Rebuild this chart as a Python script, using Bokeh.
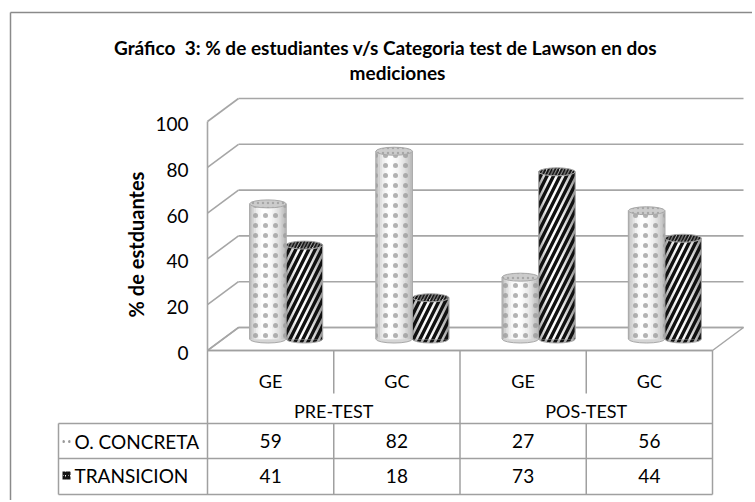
import numpy as np
from bokeh.plotting import figure
from bokeh.models import Range1d
from bokeh.core.properties import value
from bokeh.embed import file_html
from bokeh.resources import INLINE

# ---------------- data ----------------
groups = ["PRE-TEST", "POS-TEST"]
categories = ["GE", "GC", "GE", "GC"]
series_names = ["O. CONCRETA", "TRANSICION"]
concreta = [59, 82, 27, 56]
transicion = [41, 18, 73, 44]
y_ticks = [0, 20, 40, 60, 80, 100]
title_lines = ["Gráfico\u00a0 3: % de estudiantes v/s Categoria test de Lawson en dos", "mediciones"]
y_title = "% de estduantes"

# ---------------- layout (page pixels) ----------------
W, H = 752, 500
ORIGIN = 0
X0, CAT_W = 207.0, 126.25      # page x of category 0 / width of a category column
Y0, UNIT = 350.0, 2.29         # page y of value 0 (front) / px per value unit
DEPTH_X, DEPTH_Y = 31.0, 23.0  # 3D depth offset in px
BAR_PX, ELL_PX = 36.5, 8.0
FONT = value("Lato")
GRID = "#a6a6a6"
EDGE = "#a8a8a8"


def X(px):
    return (px - X0) / CAT_W


def Y(py):
    return (Y0 - py) / UNIT


p = figure(width=W, height=H,
           x_range=Range1d(X(ORIGIN), X(ORIGIN + W)),
           y_range=Range1d(Y(ORIGIN + H), Y(ORIGIN)),
           output_backend="svg", toolbar_location=None, min_border=0,
           x_axis_location=None, y_axis_location=None)
p.grid.visible = False
p.outline_line_color = None
p.background_fill_color = "white"
p.border_fill_color = "white"

ncat = len(categories)
dxu = DEPTH_X / CAT_W
dyu = DEPTH_Y / UNIT
ymax = max(y_ticks)

# outer chart frame
p.segment(x0=[X(10), X(10)], y0=[Y(12), Y(12)], x1=[X(800), X(10)], y1=[Y(12), Y(560)],
          line_color="#8a8a8a", line_width=1.5)

# floor
p.patch(x=[0, ncat, ncat + dxu, dxu], y=[0, 0, dyu, dyu],
        fill_color="white", line_color=GRID, line_width=1.5)

# back wall gridlines and side wall
ticks = np.array(y_ticks, dtype=float)
p.segment(x0=[dxu] * len(ticks), y0=ticks + dyu, x1=[ncat + dxu] * len(ticks), y1=ticks + dyu,
          line_color=GRID, line_width=1.6)
p.segment(x0=[0] * len(ticks), y0=ticks, x1=[dxu] * len(ticks), y1=ticks + dyu,
          line_color=GRID, line_width=1.6)
p.segment(x0=[0], y0=[0], x1=[0], y1=[ymax], line_color=GRID, line_width=1.6)

# tick labels
p.text(x=[X(188)] * len(ticks), y=ticks - 2.5 / UNIT, text=[str(t) for t in y_ticks],
       text_font=FONT, text_font_size="19px", text_align="right",
       text_baseline="middle", text_color="black")

# y axis title
p.text(x=[X(135)], y=[Y(244)], text=[y_title], angle=np.pi / 2,
       text_font=FONT, text_font_size="20px", text_font_style="bold",
       text_align="center", text_baseline="middle", text_color="black")

# title
p.text(x=[X(385), X(397)], y=[Y(47), Y(72)], text=title_lines,
       text_font=FONT, text_font_size="19px", text_font_style="bold",
       text_align="center", text_baseline="middle", text_color="black")

# ---------------- cylinders ----------------
BW = BAR_PX / CAT_W
EH = ELL_PX / UNIT
NSTRIP = 16
base = dyu / 2

styles = [
    dict(values=concreta, amp=75, top_fill="#cccccc", bottom_fill="#d5d5d5",
         hatch="dot", hcolor="#9a9a9a", halpha=0.75, hscale=10, hweight=0.8),
    dict(values=transicion, amp=110, top_fill="#bdbdbd", bottom_fill="#b0b0b0",
         hatch="right_diagonal_line", hcolor="#111111", halpha=1.0, hscale=13, hweight=3.4),
]

for s, st in enumerate(styles):
    vals = np.array(st["values"], dtype=float)
    cx = np.arange(ncat) + 0.5 + dxu / 2 + (s - 0.5) * BW
    tops = base + vals
    hatch_kw = dict(hatch_pattern=st["hatch"], hatch_color=st["hcolor"], hatch_alpha=st["halpha"])
    # bottom ellipse
    p.ellipse(x=cx, y=[base] * ncat, width=BW, height=EH,
              fill_color=st["bottom_fill"], line_color=EDGE, line_width=1,
              hatch_scale=st["hscale"], hatch_weight=st["hweight"], **hatch_kw)
    # shaded body strips
    lefts, rights, bots, tps, cols = [], [], [], [], []
    for k in range(NSTRIP):
        t = (k + 0.5) / NSTRIP
        d = (t - 0.4) / (0.6 if t > 0.4 else 0.4)
        g = int(round(255 - st["amp"] * d * d))
        c = "#%02x%02x%02x" % (g, g, g)
        for i in range(ncat):
            lefts.append(cx[i] - BW / 2 + k * BW / NSTRIP)
            rights.append(cx[i] - BW / 2 + (k + 1) * BW / NSTRIP)
            bots.append(base)
            tps.append(tops[i])
            cols.append(c)
    p.quad(left=lefts, right=rights, bottom=bots, top=tps,
           fill_color=cols, line_color=cols, line_width=0.6)
    # pattern over body
    p.quad(left=cx - BW / 2, right=cx + BW / 2, bottom=[base] * ncat, top=tops,
           fill_alpha=0, line_color=None,
           hatch_scale=st["hscale"], hatch_weight=st["hweight"], **hatch_kw)
    # side edges
    p.segment(x0=np.concatenate([cx - BW / 2, cx + BW / 2]), y0=[base] * (2 * ncat),
              x1=np.concatenate([cx - BW / 2, cx + BW / 2]), y1=np.concatenate([tops, tops]),
              line_color=EDGE, line_width=1)
    # top ellipse
    p.ellipse(x=cx, y=tops, width=BW, height=EH,
              fill_color=st["top_fill"], line_color=EDGE, line_width=1,
              hatch_scale=st["hscale"] * 0.5, hatch_weight=st["hweight"] * 0.6, **hatch_kw)

# ---------------- data table ----------------
TBL = "#a0a0a0"
row_lines = [Y(423), Y(458), Y(494)]
leg_left = X(58)
# horizontal lines
p.segment(x0=[0], y0=[0], x1=[ncat], y1=[0], line_color=TBL, line_width=1.5)
p.segment(x0=[leg_left] * 3, y0=row_lines, x1=[ncat] * 3, y1=row_lines,
          line_color=TBL, line_width=1.5)
# group boundaries (full height)
gb = [0, ncat // 2, ncat]
p.segment(x0=gb, y0=[0] * 3, x1=gb, y1=[row_lines[-1]] * 3, line_color=TBL, line_width=1.5)
# inner category dividers
inner = [1, 3]
p.segment(x0=inner, y0=[0] * 2, x1=inner, y1=[Y(393)] * 2, line_color=TBL, line_width=1.5)
p.segment(x0=inner, y0=[row_lines[0]] * 2, x1=inner, y1=[row_lines[-1]] * 2,
          line_color=TBL, line_width=1.5)
p.segment(x0=[leg_left], y0=[row_lines[0]], x1=[leg_left], y1=[row_lines[-1]],
          line_color=TBL, line_width=1.5)

# category and group labels
p.text(x=np.arange(ncat) + 0.5, y=[Y(380)] * ncat, text=categories,
       text_font=FONT, text_font_size="18px", text_align="center",
       text_baseline="middle", text_color="black")
p.text(x=[1, 3], y=[Y(410)] * 2, text=groups,
       text_font=FONT, text_font_size="18px", text_align="center",
       text_baseline="middle", text_color="black")

# value rows
row_centers = [Y(440.5), Y(475)]
for r, vals in enumerate([concreta, transicion]):
    p.text(x=np.arange(ncat) + 0.5, y=[row_centers[r]] * ncat, text=[str(v) for v in vals],
           text_font=FONT, text_font_size="19px", text_align="center",
           text_baseline="middle", text_color="black")

# legend labels and keys
p.text(x=[X(74)] * 2, y=row_centers, text=series_names,
       text_font=FONT, text_font_size="19px", text_align="left",
       text_baseline="middle", text_color="black")
key_scale = [6, 5]
key_weight = [1.0, 2.2]
for r, st in enumerate(styles):
    p.quad(left=[X(62)], right=[X(70)], bottom=[row_centers[r] - 4 / UNIT],
           top=[row_centers[r] + 4 / UNIT], fill_color="white", line_color=None,
           hatch_pattern=st["hatch"], hatch_color=st["hcolor"],
           hatch_scale=key_scale[r], hatch_weight=key_weight[r])

open("out.html", "w").write(file_html(p, INLINE))
